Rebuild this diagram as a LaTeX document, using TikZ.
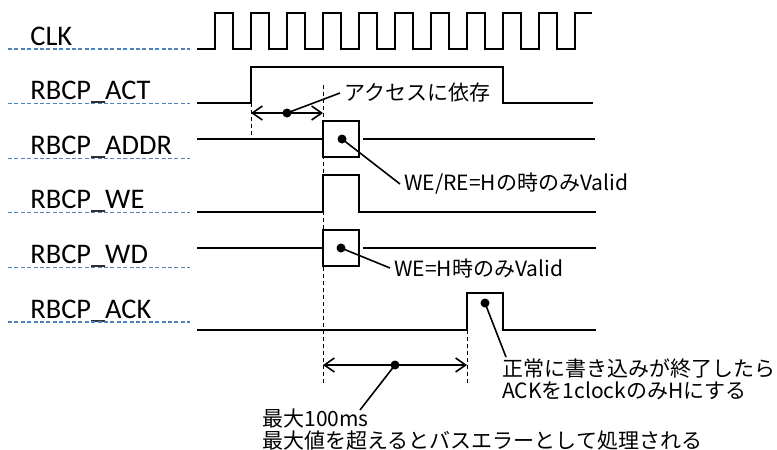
\documentclass[tikz,border=0pt]{standalone}
\usepackage{fontspec}
\setmainfont{Carlito}
\newfontfamily\jpfont{Noto Sans CJK JP}
\usetikzlibrary{arrows.meta}
\definecolor{guide}{RGB}{79,129,189}

\begin{document}
\begin{tikzpicture}[
  x=0.5pt, y=-0.5pt,
  sig/.style={line width=1.1pt, line join=miter},
  lbl/.style={anchor=base west, inner sep=0, font=\fontsize{14.2}{16}\selectfont},
  guideline/.style={draw=guide, line width=0.55pt, dash pattern=on 2pt off 1.2pt},
  vbox/.style={draw, line width=1.1pt, minimum width=18pt, minimum height=18pt, inner sep=0},
  dot/.style={circle, fill, inner sep=0, minimum size=4.5pt},
  lead/.style={line width=0.8pt},
  vline/.style={line width=0.5pt, dash pattern=on 2pt off 1.5pt},
  dimarrow/.style={{Straight Barb[length=5pt,width=7pt]}-{Straight Barb[length=5pt,width=7pt]}, line width=0.8pt},
  note/.style={inner sep=2pt, align=left, font=\jpfont\fontsize{10.5}{11}\selectfont},
]
  \useasboundingbox (0,0) rectangle (777,450);

  % signal names
  \foreach \name [count=\i from 0] in {CLK, RBCP\_ACT, RBCP\_ADDR, RBCP\_WE, RBCP\_WD, RBCP\_ACK} {
    \node[lbl] (lab\i) at (30,{45+54.6*\i}) {\name};
    \draw[guideline] (8,{49+54.6*\i}) -- (190,{49+54.6*\i});
  }

  % timing marks
  \draw[vline] (251,103) -- (251,139);
  \draw[vline] (323,85) -- (323,383);
  \draw[vline] (467,330) -- (467,383);

  % CLK
  \draw[sig] (197,49)
    \foreach \k in {0,...,9} {
      -- ({215+36*\k},49) -- ({215+36*\k},13) -- ({233+36*\k},13) -- ({233+36*\k},49)
    } -- (575,49) -- (575,13) -- (592,13);

  % RBCP_ACT
  \draw[sig] (197,103) -- (251,103) -- (251,67) -- (503,67) -- (503,103) -- (593,103);

  % RBCP_ADDR
  \node[vbox] (addrbox) at (341,139) {};
  \draw[sig] (197,139) -- (addrbox.west);
  \draw[sig] ([xshift=1.5pt]addrbox.east) -- (595,139);
  \node[dot] (addrdot) at (342,139) {};

  % RBCP_WE
  \draw[sig] (197,212) -- (323,212) -- (323,175) -- (359,175) -- (359,212) -- (596,212);

  % RBCP_WD
  \node[vbox] (wdbox) at (341,248) {};
  \draw[sig] (197,248) -- (wdbox.west);
  \draw[sig] ([xshift=1.5pt]wdbox.east) -- (596,248);
  \node[dot] (wddot) at (341,248) {};

  % RBCP_ACK
  \draw[sig] (197,330) -- (467,330) -- (467,293) -- (503,293) -- (503,330) -- (596,330);
  \node[dot] (ackdot) at (485,303) {};

  % intervals
  \draw[dimarrow] (251,113) -- (323,113);
  \node[dot] (actdot) at (287,113) {};
  \draw[dimarrow] (323,365) -- (467,365);
  \node[dot] (maxdot) at (395,365) {};

  % notes
  \node[note, anchor=west] (actnote) at (340,93) {アクセスに依存};
  \node[note, anchor=west] (addrnote) at (400,184) {WE/RE=Hの時のみValid};
  \node[note, anchor=west] (wdnote) at (390,268) {WE=H時のみValid};
  \node[note, anchor=north west] (acknote) at (498,354) {正常に書き込みが終了したら\\ACKを1clockのみHにする};
  \node[note, anchor=north west] (maxnote) at (258,404) {最大100ms\\最大値を超えるとバスエラーとして処理される};
  \coordinate (acktip) at (506,357);
  \coordinate (maxtip) at (360,410);

  \draw[lead] (actdot.center) -- (actnote.west);
  \draw[lead] (addrdot.center) -- (addrnote.west);
  \draw[lead] (wddot.center) -- (wdnote.west);
  \draw[lead] (ackdot.center) -- (acktip);
  \draw[lead] (maxdot.center) -- (maxtip);
\end{tikzpicture}
\end{document}
